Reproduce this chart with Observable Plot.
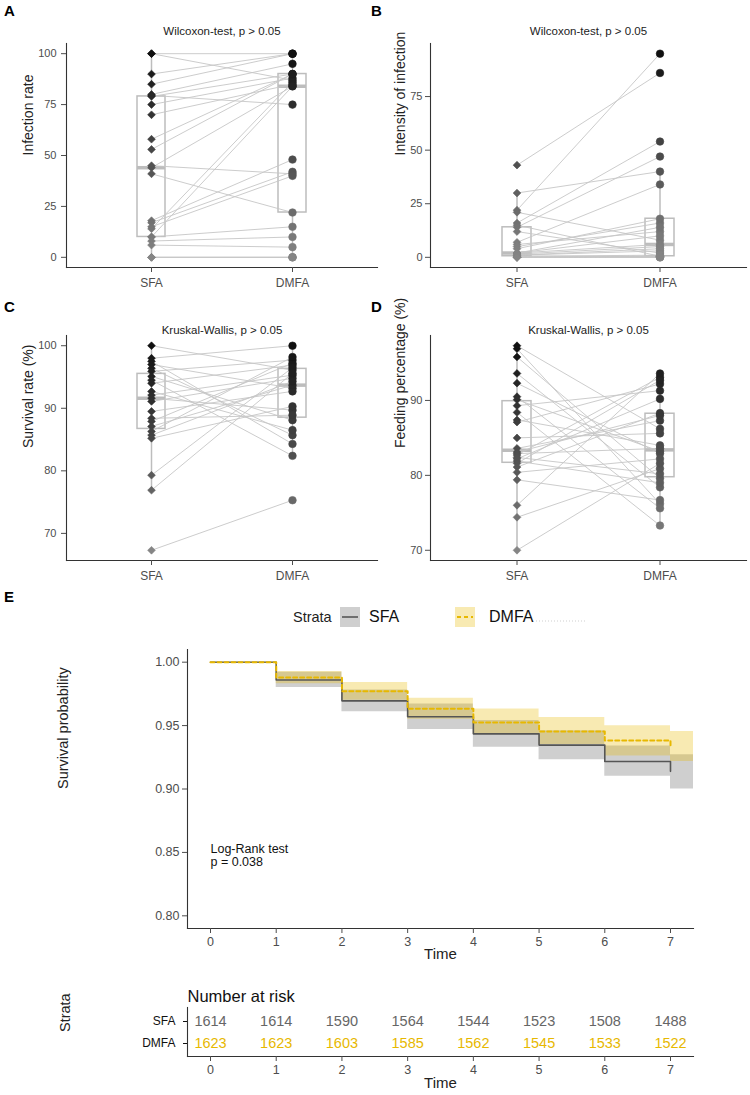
<!DOCTYPE html>
<html><head><meta charset="utf-8">
<script src="https://cdn.jsdelivr.net/npm/d3@7"></script>
<script src="https://cdn.jsdelivr.net/npm/@observablehq/plot@0.6"></script>
<style>
body{margin:0;background:#fff;font-family:"Liberation Sans",Arial,sans-serif;}
#fig{position:relative;width:750px;height:1095px;overflow:hidden;background:#fff;}
#fig svg{position:absolute;}
.letter{position:absolute;font-weight:bold;font-size:15px;color:#000;line-height:17px;}
</style></head><body><div id="fig"></div>
<script>
// ---------- data ----------
const groups = ["SFA", "DMFA"];

// Panel A: infection rate (paired)
const infectionSFA  = [100,100,90,85,80,79.5,79,75,70,58,53,45,44,41,18,17,15,14,10,10,8,6,0,0,0];
const infectionDMFA = [100,87,100,100,95,75,90,88,85,90,90,41,84,22,48,42,40,86,15,84,10,5,0,0,0];

// Panel B: intensity of infection (paired)
const intensitySFA  = [43,30,22,21,16,15,14,12,7,6,5,4,2,2,2,1.5,1,1,0.5,0.5,0,0,0,0,0];
const intensityDMFA = [86,40,95,8,54,0.5,47,2,34,12,16,18,14,10,6,5,4,3,1,0.5,0,0,0,0.5,0.5];

// Panel C: survival rate (%) (paired)
const survivalSFA  = [100,98,97.5,97,96.4,95.9,95.1,94.5,94,92.7,92.1,91.6,91.1,89.5,88.4,87.9,87.1,86.3,85.7,85.2,79.3,76.9,67.3];
const survivalDMFA = [96.1,100,84.3,93.2,85.7,97.7,88.1,82.4,96.9,86.5,95.3,89.7,94.8,92.7,88.9,97.2,93.7,98.2,94.3,90.3,96.5,95.6,75.3];

// Panel D: feeding percentage (%) (paired)
const feedingSFA  = [97.3,96.9,95.8,93.6,92.3,90.5,90.1,89.3,88.4,87.4,87.1,85.0,83.6,83.1,82.9,82.7,82.4,82.2,81.9,81.6,81.1,80.4,79.4,76.0,74.4,70.0];
const feedingDMFA = [86.2,76.2,79.6,78.4,82.9,75.6,83.2,91.3,73.3,84.0,92.2,85.6,87.3,88.0,83.6,93.1,80.2,90.2,79.0,92.7,88.3,82.2,76.7,93.6,80.9,81.6];

// Panel E: Kaplan-Meier
const times = [0,1,2,3,4,5,6,7];
const bandEnd = 7.35;
const survSFA   = [1,0.986,0.9695,0.957,0.9435,0.9346,0.9217,0.9139];
const lowerSFA  = [1,0.980,0.961,0.947,0.933,0.923,0.910,0.900];
const upperSFA  = [1,0.992,0.978,0.967,0.954,0.946,0.934,0.927];
const survDMFA  = [1,0.9879,0.977,0.9632,0.9524,0.9454,0.9383,0.9335];
const lowerDMFA = [1,0.983,0.970,0.955,0.943,0.935,0.926,0.9217];
const upperDMFA = [1,0.9926,0.984,0.9716,0.963,0.9564,0.9498,0.9454];
const riskSFA  = [1614,1614,1590,1564,1544,1523,1508,1488];
const riskDMFA = [1623,1623,1603,1585,1562,1545,1533,1522];
const survTicks = [0.80,0.85,0.90,0.95,1.00];
const logRankText = "Log-Rank test\np = 0.038";
const logRankPos = {t: 0, s: 0.848};

const SFA_COL = "#555555", DMFA_COL = "#E7B800";
const FONT = "'Liberation Sans', Arial, sans-serif";
const fig = document.getElementById("fig");

function place(svg, left, top) {
  svg.style.left = left + "px";
  svg.style.top = top + "px";
  fig.appendChild(svg);
}

function pairPanel(cfg) {
  const {sfa, dmfa, yTicks, yLabel, title, left, top, width, height, mL, mR, mT, mB, titleDy, labelDx, tickPad} = cfg;
  const pairs = sfa.map((v, i) => ({a: v, b: dmfa[i]}));
  const ptsS = sfa.map(v => ({g: "SFA", v}));
  const ptsD = dmfa.map(v => ({g: "DMFA", v}));
  const stats = groups.map((g, k) => {
    const vals = (k ? dmfa : sfa).slice().sort(d3.ascending);
    const q1 = d3.quantileSorted(vals, 0.25), med = d3.quantileSorted(vals, 0.5), q3 = d3.quantileSorted(vals, 0.75);
    const iqr = q3 - q1;
    const lo = d3.min(vals.filter(v => v >= q1 - 1.5 * iqr));
    const hi = d3.max(vals.filter(v => v <= q3 + 1.5 * iqr));
    return {g, q1, med, q3, lo, hi};
  });
  const ext = d3.extent(sfa.concat(dmfa));
  const pad = (ext[1] - ext[0]) * 0.05;
  const boxCol = "#bdbdbd";
  const svg = Plot.plot({
    width, height, marginLeft: mL, marginRight: mR, marginTop: mT, marginBottom: mB,
    style: {fontFamily: FONT, background: "transparent", overflow: "visible"},
    x: {type: "band", domain: groups, paddingInner: 0.8, paddingOuter: 0.5, label: null},
    y: {domain: [ext[0] - pad, ext[1] + pad], label: null},
    color: {type: "linear", domain: ext, range: ["#858585", "#101010"]},
    marks: [
      Plot.ruleX(stats, {x: "g", y1: "lo", y2: "q1", stroke: boxCol, strokeWidth: 1.5}),
      Plot.ruleX(stats, {x: "g", y1: "q3", y2: "hi", stroke: boxCol, strokeWidth: 1.5}),
      Plot.barY(stats, {x: "g", y1: "q1", y2: "q3", fill: "none", stroke: boxCol, strokeWidth: 1.5}),
      Plot.tickY(stats, {x: "g", y: "med", stroke: boxCol, strokeWidth: 3.5}),
      Plot.link(pairs, {x1: () => "SFA", x2: () => "DMFA", y1: "a", y2: "b", stroke: "#c6c6c6", strokeWidth: 0.9}),
      Plot.dot(ptsS, {x: "g", y: "v", fill: "v", stroke: "v", strokeWidth: 0.6, symbol: "diamond2", r: 3.5}),
      Plot.dot(ptsD, {x: "g", y: "v", fill: "v", stroke: "v", strokeWidth: 0.6, symbol: "circle", r: 3.8}),
      Plot.frame({anchor: "left", stroke: "#333", strokeWidth: 1.1}),
      Plot.frame({anchor: "bottom", stroke: "#333", strokeWidth: 1.1}),
      Plot.axisY({ticks: yTicks, tickSize: 5, tickPadding: tickPad, fontSize: 11, color: "#4d4d4d", label: null}),
      Plot.axisX({tickSize: 5, tickPadding: 6, fontSize: 12, color: "#4d4d4d", label: null}),
      Plot.text([title], {frameAnchor: "top", dy: titleDy, fontSize: 11.5, fill: "#222"}),
      Plot.text([yLabel], {frameAnchor: "left", rotate: -90, dx: labelDx, fontSize: 14, fill: "#222"})
    ]
  });
  place(svg, left, top);
}

pairPanel({sfa: infectionSFA, dmfa: infectionDMFA, yTicks: [0,25,50,75,100], yLabel: "Infection rate",
  title: "Wilcoxon-test, p > 0.05", left: 0, top: 0, width: 378, height: 290, mL: 66, mR: 1, mT: 43, mB: 23,
  titleDy: -17, labelDx: -38, tickPad: 5});
pairPanel({sfa: intensitySFA, dmfa: intensityDMFA, yTicks: [0,25,50,75], yLabel: "Intensity of infection",
  title: "Wilcoxon-test, p > 0.05", left: 375, top: 0, width: 375, height: 290, mL: 55, mR: 4, mT: 43, mB: 23,
  titleDy: -17, labelDx: -30, tickPad: 3});
pairPanel({sfa: survivalSFA, dmfa: survivalDMFA, yTicks: [70,80,90,100], yLabel: "Survival rate (%)",
  title: "Kruskal-Wallis, p > 0.05", left: 0, top: 290, width: 378, height: 300, mL: 66, mR: 1, mT: 45, mB: 30,
  titleDy: -10, labelDx: -38, tickPad: 5});
pairPanel({sfa: feedingSFA, dmfa: feedingDMFA, yTicks: [70,80,90], yLabel: "Feeding percentage (%)",
  title: "Kruskal-Wallis, p > 0.05", left: 375, top: 290, width: 375, height: 300, mL: 55, mR: 4, mT: 45, mB: 30,
  titleDy: -10, labelDx: -30, tickPad: 3});

// ---------- Panel E: survival curves ----------
const bandTimes = times.concat([bandEnd]);
const mk = (lo, hi) => bandTimes.map((t, i) => ({t, lo: lo[Math.min(i, lo.length - 1)], hi: hi[Math.min(i, hi.length - 1)]}));
const bandSFA = mk(lowerSFA, upperSFA);
const bandDMFA = mk(lowerDMFA, upperDMFA);
const lineSFA = times.map((t, i) => ({t, s: survSFA[i]}));
const lineDMFA = times.map((t, i) => ({t, s: survDMFA[i]}));
const xDomain = [-0.05 * 7, 7 * 1.05];

const survSvg = Plot.plot({
  width: 750, height: 335, marginLeft: 187, marginRight: 57, marginTop: 14, marginBottom: 42,
  style: {fontFamily: FONT, background: "transparent", overflow: "visible"},
  x: {domain: xDomain, label: null},
  y: {domain: [0.8 - 0.01, 1.0 + 0.01], label: null},
  marks: [
    Plot.areaY(bandSFA, {x: "t", y1: "lo", y2: "hi", curve: "step-after", fill: "#888", fillOpacity: 0.4}),
    Plot.areaY(bandDMFA, {x: "t", y1: "lo", y2: "hi", curve: "step-after", fill: DMFA_COL, fillOpacity: 0.3}),
    Plot.line(lineSFA, {x: "t", y: "s", curve: "step-after", stroke: SFA_COL, strokeWidth: 1.6}),
    Plot.line(lineDMFA, {x: "t", y: "s", curve: "step-after", stroke: DMFA_COL, strokeWidth: 2, strokeDasharray: "4,3"}),
    Plot.frame({anchor: "left", stroke: "#333", strokeWidth: 1.1}),
    Plot.frame({anchor: "bottom", stroke: "#333", strokeWidth: 1.1}),
    Plot.axisY({ticks: survTicks, tickFormat: d3.format(".2f"), tickSize: 5, tickPadding: 3, fontSize: 12.5, color: "#4d4d4d", label: null}),
    Plot.axisX({ticks: times, tickSize: 5, tickPadding: 4, fontSize: 12.5, color: "#4d4d4d", label: null}),
    Plot.text([logRankPos], {x: "t", y: "s", text: () => logRankText, textAnchor: "start", lineHeight: 1.05, fontSize: 12.5, fill: "#111"}),
    Plot.text(["Survival probability"], {frameAnchor: "left", rotate: -90, dx: -124, fontSize: 14.5, fill: "#222"}),
    Plot.text(["Time"], {frameAnchor: "bottom", dy: 30, fontSize: 15, fill: "#222"})
  ]
});
place(survSvg, 0, 635);

// ---------- Legend ----------
const leg = d3.create("svg").attr("width", 750).attr("height", 40)
  .style("font-family", FONT);
leg.append("text").attr("x", 293).attr("y", 20).attr("dominant-baseline", "middle")
  .attr("font-size", 14.5).attr("fill", "#222").text("Strata");
const keys = [
  {name: "SFA", x: 340, tx: 369, fill: "#888", op: 0.4, stroke: SFA_COL, dash: null, w: 1.6},
  {name: "DMFA", x: 455, tx: 489, fill: DMFA_COL, op: 0.3, stroke: DMFA_COL, dash: "4,3", w: 2}
];
for (const k of keys) {
  leg.append("rect").attr("x", k.x).attr("y", 9).attr("width", 20).attr("height", 20)
    .attr("fill", k.fill).attr("fill-opacity", k.op);
  leg.append("line").attr("x1", k.x + 2).attr("x2", k.x + 18).attr("y1", 19).attr("y2", 19)
    .attr("stroke", k.stroke).attr("stroke-width", k.w).attr("stroke-dasharray", k.dash);
  leg.append("text").attr("x", k.tx).attr("y", 20).attr("dominant-baseline", "middle")
    .attr("font-size", 16).attr("fill", "#111").text(k.name);
}
leg.append("line").attr("x1", 536).attr("x2", 586).attr("y1", 23).attr("y2", 23)
  .attr("stroke", "#cfcfcf").attr("stroke-width", 1).attr("stroke-dasharray", "1,2");
place(leg.node(), 0, 598);

// ---------- Number at risk ----------
const riskRows = times.flatMap((t, i) => [
  {t, strata: "SFA", n: riskSFA[i]},
  {t, strata: "DMFA", n: riskDMFA[i]}
]);
const riskSvg = Plot.plot({
  width: 750, height: 120, marginLeft: 187, marginRight: 57, marginTop: 32, marginBottom: 39,
  style: {fontFamily: FONT, background: "transparent", overflow: "visible"},
  x: {domain: xDomain, label: null},
  y: {type: "point", domain: groups, padding: 0.6, label: null},
  marks: [
    Plot.text(riskRows, {x: "t", y: "strata", text: d => String(d.n), fontSize: 14.5,
      fill: d => d.strata === "SFA" ? "#666666" : DMFA_COL}),
    Plot.frame({anchor: "left", stroke: "#333", strokeWidth: 1.1}),
    Plot.frame({anchor: "bottom", stroke: "#333", strokeWidth: 1.1}),
    Plot.axisY({tickSize: 4, tickPadding: 8, fontSize: 12, color: "#111", label: null}),
    Plot.axisX({ticks: times, tickSize: 5, tickPadding: 4, fontSize: 12.5, color: "#4d4d4d", label: null}),
    Plot.text(["Number at risk"], {frameAnchor: "top-left", dy: -17, textAnchor: "start", fontSize: 16.5, fill: "#111"}),
    Plot.text(["Strata"], {frameAnchor: "left", rotate: -90, dx: -122, fontSize: 14.5, fill: "#222"}),
    Plot.text(["Time"], {frameAnchor: "bottom", dy: 31, fontSize: 15, fill: "#222"})
  ]
});
place(riskSvg, 0, 975);

// ---------- panel letters ----------
for (const [t, x, y] of [["A", 4, 2], ["B", 371, 2], ["C", 4, 298], ["D", 371, 298], ["E", 4, 588]]) {
  const d = document.createElement("div");
  d.className = "letter";
  d.style.left = x + "px"; d.style.top = y + "px";
  d.textContent = t;
  fig.appendChild(d);
}
</script>
</body></html>
